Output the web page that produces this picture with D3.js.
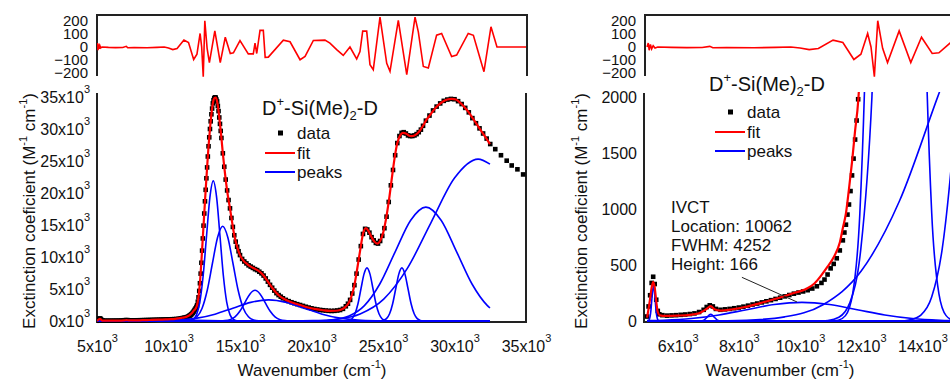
<!DOCTYPE html>
<html>
<head>
<meta charset="utf-8">
<script src="https://cdn.jsdelivr.net/npm/d3@7"></script>
<style>
  body { margin: 0; background: #fff; }
  text { font-family: "Liberation Sans", Arial, sans-serif; fill: #111; }
</style>
</head>
<body>
<svg width="950" height="381"></svg>
<script>
// ---- data (wavenumber in cm-1, extinction in M-1 cm-1) ----
var xTicksWide = [5000, 10000, 15000, 20000, 25000, 30000, 35000];
var yTicksWide = [0, 5000, 10000, 15000, 20000, 25000, 30000, 35000];
var xTicksZoom = [6000, 8000, 10000, 12000, 14000];
var yTicksZoom = [0, 500, 1000, 1500, 2000];
var resTicks = [-200, -100, 0, 100, 200];

var dataPoints = [[5000,40],[5050,130],[5100,230],[5150,340],[5200,395],[5250,330],[5300,190],[5350,90],[5400,60],[5500,52],[5650,48],[5800,50],[5950,52],[6100,55],[6250,58],[6400,62],[6550,68],[6700,80],[6850,100],[6950,125],[7050,140],[7150,130],[7250,108],[7400,100],[7550,104],[7700,108],[7850,114],[8000,120],[8150,128],[8300,137],[8450,147],[8600,156],[8750,166],[8900,176],[9050,186],[9200,197],[9350,208],[9500,220],[9650,232],[9800,244],[9950,254],[10100,264],[10250,275],[10400,290],[10550,310],[10700,340],[10800,370],[10900,415],[11000,470],[11100,510],[11200,560],[11300,630],[11400,720],[11450,790],[11500,860],[11550,950],[11600,1040],[11650,1160],[11700,1300],[11750,1450],[11800,1620],[11850,1790],[11900,1980],[11950,2200],[12000,2450],[12050,3000],[12100,3700],[12150,4700],[12200,5900],[12250,7400],[12300,9100],[12350,11000],[12400,12900],[12450,14900],[12500,16800],[12550,18700],[12600,20500],[12650,22300],[12700,24000],[12750,25700],[12800,27300],[12850,28700],[12900,30000],[12950,31200],[13000,32300],[13050,33200],[13100,34000],[13150,34500],[13200,34800],[13250,34950],[13300,34900],[13350,34600],[13400,34300],[13450,33600],[13500,32800],[13550,31800],[13600,30800],[13650,29700],[13700,28600],[13800,26200],[13900,24100],[14000,22100],[14100,20400],[14200,18900],[14300,17600],[14400,16100],[14500,14700],[14600,13400],[14700,12400],[14800,11600],[14900,10900],[15000,10300],[15150,9700],[15300,9300],[15450,9000],[15600,8700],[15750,8500],[15900,8300],[16050,8100],[16200,7950],[16350,7700],[16500,7450],[16650,7100],[16800,6650],[16950,6150],[17100,5650],[17250,5200],[17400,4750],[17550,4350],[17700,4050],[17850,3800],[18000,3550],[18200,3300],[18400,3100],[18600,2930],[18800,2780],[19000,2630],[19200,2500],[19400,2360],[19600,2220],[19800,2100],[20000,1980],[20200,1880],[20400,1800],[20600,1730],[20800,1680],[21000,1630],[21200,1590],[21400,1570],[21600,1590],[21800,1640],[22000,1720],[22200,1900],[22400,2300],[22550,2700],[22700,3300],[22850,4300],[23000,5600],[23150,7400],[23300,9600],[23450,11700],[23600,13600],[23750,14400],[23900,14300],[24050,13800],[24200,13100],[24350,12600],[24500,12200],[24650,12100],[24800,12500],[24950,13300],[25100,14500],[25250,16300],[25400,18600],[25550,21200],[25700,23600],[25850,25900],[26000,27800],[26150,28900],[26300,29400],[26450,29500],[26600,29300],[26750,29000],[26900,28900],[27050,28900],[27200,29000],[27350,29200],[27500,29500],[27650,29900],[27800,30500],[28000,31300],[28250,32100],[28500,32900],[28750,33500],[29000,34000],[29250,34400],[29500,34600],[29750,34700],[30000,34650],[30250,34350],[30500,33900],[30750,33300],[31000,32600],[31250,31700],[31500,30900],[31750,30100],[32000,29300],[32250,28500],[32500,27650],[32850,26850],[33250,25900],[33650,25050],[34000,24300],[34400,23700],[34800,22900]];

var fitPoints = [[5000,30],[5050,110],[5100,200],[5150,300],[5200,350],[5250,300],[5300,175],[5350,80],[5420,50],[5600,45],[6000,48],[6400,55],[6700,70],[6900,100],[7000,120],[7080,132],[7200,104],[7400,92],[7800,105],[8200,125],[8700,160],[9300,205],[9800,250],[10200,285],[10470,335],[10700,410],[10900,485],[11100,570],[11300,700],[11400,830],[11500,960],[11600,1180],[11700,1420],[11800,1700],[11900,1960],[12000,2500],[12100,3800],[12200,6000],[12300,9300],[12400,13000],[12500,16800],[12600,20500],[12700,24000],[12800,27300],[12900,30000],[13000,32300],[13100,34000],[13200,34800],[13300,34900],[13400,34300],[13500,32800],[13600,30800],[13700,28600],[13800,26200],[13900,24100],[14000,22100],[14150,19600],[14300,17600],[14450,15400],[14600,13400],[14800,11600],[15000,10300],[15250,9400],[15500,8900],[15750,8500],[16000,8200],[16250,7900],[16500,7450],[16750,6800],[17000,6000],[17250,5200],[17500,4500],[17750,3950],[18000,3550],[18300,3200],[18700,2850],[19200,2500],[19700,2150],[20300,1850],[20800,1680],[21300,1580],[21700,1600],[22000,1720],[22300,2050],[22600,2800],[22800,3900],[23000,5600],[23200,8200],[23400,11000],[23600,13600],[23800,14500],[24000,14000],[24200,13100],[24400,12400],[24600,12100],[24800,12500],[25000,13700],[25200,15800],[25400,18600],[25600,22000],[25800,25300],[26000,27800],[26200,29000],[26400,29400],[26600,29300],[26800,29000],[27000,28900],[27200,29000],[27400,29300],[27600,29800],[27800,30500],[28000,31300],[28300,32200],[28600,33100],[28900,33800],[29200,34300],[29500,34600],[29800,34700],[30100,34600],[30400,34100],[30700,33400],[31000,32600],[31300,31600],[31600,30600],[31900,29600],[32200,28600],[32480,27650]];

var residualPoints = [[5000,0],[5040,30],[5070,-25],[5110,20],[5150,-15],[5200,10],[5260,-8],[5350,0],[5800,-3],[6300,-5],[6800,-4],[7050,5],[7150,-6],[7600,-4],[8500,-6],[9200,-3],[9700,0],[10000,-8],[10300,-20],[10600,-12],[11080,53],[11400,35],[11760,-96],[11990,-55],[12210,104],[12320,0],[12430,-228],[12540,202],[12700,-10],[12860,-120],[13240,124],[13620,-120],[13970,75],[14320,-50],[14540,-45],[15000,50],[15580,-53],[15930,-53],[16050,30],[16170,-50],[16400,128],[16630,128],[16760,-80],[16980,-78],[18030,53],[18500,40],[19200,-98],[19550,-73],[20130,50],[20940,53],[21290,30],[21760,-20],[22220,-65],[22690,0],[23160,-92],[23390,-35],[23580,122],[23860,122],[24090,-136],[24320,-175],[24790,230],[25260,-125],[25490,-187],[26070,205],[26660,-212],[27240,230],[27470,116],[27820,-150],[28170,-162],[28750,91],[29100,104],[29800,-73],[30150,-62],[30960,104],[31320,90],[31780,-85],[32060,-190],[32550,155],[32970,0],[35000,0]];

// fitted component bands
var peakNir = [[5000,0],[5045,3],[5100,42],[5128,100],[5155,188],[5183,274],[5210,310],[5237,274],[5265,188],[5292,100],[5320,42],[5375,3],[5430,0],[32480,0]];
var peak7100 = [[5000,0],[6750,0],[6860,8],[6970,36],[7025,53],[7080,60],[7135,53],[7190,36],[7300,8],[7410,0],[32480,0]];
var peakIvct = [[5000,3],[5547,7],[6450,22],[7353,54],[8256,101],[9159,147],[10062,166],[10965,147],[11868,101],[12771,54],[13674,22],[14577,7],[15480,2],[16383,0],[32480,0]];
var peak13100 = [[5000,0],[11015,0],[11250,7],[11485,48],[11720,243],[11955,960],[12190,2960],[12425,7110],[12660,13280],[12895,19330],[13130,21900],[13365,19330],[13600,13280],[13835,7110],[14070,2960],[14305,960],[14540,243],[14775,48],[15010,7],[15245,0],[32480,0]];
var peak13800 = [[5000,0],[10550,0],[10910,5],[11270,33],[11630,164],[11990,650],[12350,2000],[12710,4805],[13070,8980],[13430,13060],[13790,14800],[14150,13060],[14510,8980],[14870,4805],[15230,2000],[15590,650],[15950,164],[16310,33],[16670,5],[17030,0],[32480,0]];
var peak16050 = [[5000,0],[13250,0],[13600,11],[13950,53],[14300,211],[14650,649],[15000,1559],[15350,2911],[15700,4236],[16050,4800],[16400,4236],[16750,2911],[17100,1559],[17450,649],[17800,211],[18150,53],[18500,11],[18850,0],[32480,0]];
var peak17000 = [[5000,0],[7000,0],[8250,7],[9500,37],[10750,145],[12000,446],[13250,1071],[14500,2001],[15750,2912],[17000,3300],[18250,2912],[19500,2001],[20750,1071],[22000,446],[23250,145],[24500,37],[25750,7],[27000,0],[32480,0]];
var peak23880 = [[5000,0],[22200,0],[22410,18],[22620,92],[22830,364],[23040,1123],[23250,2695],[23460,5034],[23670,7325],[23880,8300],[24090,7325],[24300,5034],[24510,2695],[24720,1123],[24930,364],[25140,92],[25350,18],[25560,0],[32480,0]];
var peak26320 = [[5000,0],[24600,0],[24815,18],[25030,92],[25245,364],[25460,1123],[25675,2695],[25890,5034],[26105,7325],[26320,8300],[26535,7325],[26750,5034],[26965,2695],[27180,1123],[27395,364],[27610,92],[27825,18],[28040,0],[32480,0]];
var peak28000 = [[5000,0],[18300,0],[19400,6],[20475,39],[21550,198],[22625,781],[23700,2408],[24775,5780],[25850,10800],[26925,15710],[28000,17800],[29075,15710],[30150,10800],[31225,5780],[32300,2408],[32480,2030]];
var peak31650 = [[5000,0],[16800,0],[18450,9],[20100,56],[21750,281],[23400,1111],[25050,3423],[26700,8215],[28350,15340],[30000,22330],[31650,25300],[32480,24500]];

var peakList = [peakNir, peak7100, peakIvct, peak13100, peak13800, peak16050, peak17000, peak23880, peak26320, peak28000, peak31650];

var ivct = { location: 10062, fwhm: 4252, height: 166 };
var ivctPointer = [[8100, 390], [9900, 170]];

// ---- drawing ----
var svg = d3.select("svg");
var yRes = d3.scaleLinear().domain([-200, 200]).range([73, 21]);

var defs = svg.append("defs");
function addClip(id, x, y, w, h) {
  defs.append("clipPath").attr("id", id).append("rect")
    .attr("x", x).attr("y", y).attr("width", w).attr("height", h);
}

function sciTicks(sel) {
  sel.each(function(d) {
    var t = d3.select(this).text(null);
    t.append("tspan").text(d / 1000 + "x10");
    t.append("tspan").attr("dy", -10).attr("font-size", "11px").text("3");
  });
}

function addTitle(g, x, y) {
  var t = g.append("text").attr("x", x).attr("y", y).attr("font-size", "20px");
  t.append("tspan").text("D");
  t.append("tspan").attr("dy", -9).attr("font-size", "13px").text("+");
  t.append("tspan").attr("dy", 9).text("-Si(Me)");
  t.append("tspan").attr("dy", 5).attr("font-size", "13px").text("2");
  t.append("tspan").attr("dy", -5).text("-D");
}

function drawPanel(p) {
  var g = svg.append("g");
  var x = p.x, y = p.y;
  var left = x.range()[0], right = Math.min(x.range()[1], 950);

  addClip(p.id + "main", left, 92, right - left + 2, 232);
  addClip(p.id + "res", p.resLeft, 15, right - p.resLeft + 2, 62);

  // residual strip
  g.append("path")
    .attr("d", "M" + p.resLeft + ",76V15H" + p.resRight + (p.resRight < 950 ? "V76" : ""))
    .attr("fill", "none").attr("stroke", "#222").attr("stroke-width", 2);

  g.append("path").datum(residualPoints)
    .attr("clip-path", "url(#" + p.id + "res)")
    .attr("fill", "none").attr("stroke", "#f00").attr("stroke-width", 1.6)
    .attr("d", d3.line().x(function(d) { return x(d[0]); }).y(function(d) { return yRes(d[1]); }));

  var ra = g.append("g").attr("transform", "translate(" + p.resLeft + ",0)")
    .call(d3.axisLeft(yRes).tickValues(resTicks).tickSize(0).tickPadding(9));
  ra.select(".domain").remove();
  ra.selectAll("text").attr("font-size", "15px").attr("fill", "#111");
  ra.attr("font-family", null).attr("font-size", null);

  // main frame
  g.append("path")
    .attr("d", "M" + left + ",93V322H" + p.frameRight + (p.frameRight < 950 ? "V93" : ""))
    .attr("fill", "none").attr("stroke", "#222").attr("stroke-width", 2);

  var plot = g.append("g").attr("clip-path", "url(#" + p.id + "main)");

  plot.selectAll("rect.pt").data(dataPoints).enter().append("rect")
    .attr("class", "pt")
    .attr("x", function(d) { return x(d[0]) - 2.3; })
    .attr("y", function(d) { return y(d[1]) - 2.3; })
    .attr("width", 4.6).attr("height", 4.6).attr("fill", "#000");

  var curve = d3.line().curve(d3.curveMonotoneX)
    .x(function(d) { return x(d[0]); }).y(function(d) { return y(d[1]); });

  plot.selectAll("path.peak").data(peakList).enter().append("path")
    .attr("class", "peak").attr("d", curve)
    .attr("fill", "none").attr("stroke", "#0000ff").attr("stroke-width", 1.6);

  plot.append("path").datum(fitPoints).attr("d", curve)
    .attr("fill", "none").attr("stroke", "#f00").attr("stroke-width", 2.2);

  // axes labels
  var xa = g.append("g").attr("transform", "translate(0,322)")
    .call(d3.axisBottom(x).tickValues(p.xTicks).tickSize(0).tickPadding(30));
  xa.select(".domain").remove();
  xa.selectAll("text").attr("font-size", "16px").attr("fill", "#111").attr("dy", null).call(sciTicks);
  xa.attr("font-family", null).attr("font-size", null);

  var ya = g.append("g").attr("transform", "translate(" + left + ",0)")
    .call(d3.axisLeft(y).tickValues(p.yTicks).tickSize(0).tickPadding(7).tickFormat(d3.format("d")));
  ya.select(".domain").remove();
  ya.selectAll("text").attr("font-size", "16px").attr("fill", "#111");
  if (p.sci) ya.selectAll("text").call(sciTicks);
  ya.attr("font-family", null).attr("font-size", null);

  var xl = g.append("text").attr("x", p.xLabelX).attr("y", 376)
    .attr("text-anchor", "middle").attr("font-size", "17px");
  xl.append("tspan").text("Wavenumber (cm");
  xl.append("tspan").attr("dy", -8).attr("font-size", "11px").text("-1");
  xl.append("tspan").attr("dy", 8).text(")");

  var yl = g.append("text")
    .attr("transform", "translate(" + p.yLabelX + ",211) rotate(-90)")
    .attr("text-anchor", "middle").attr("font-size", "17px");
  yl.append("tspan").text("Exctinction coeficient (M");
  yl.append("tspan").attr("dy", -8).attr("font-size", "11px").text("-1");
  yl.append("tspan").attr("dy", 8).text(" cm");
  yl.append("tspan").attr("dy", -8).attr("font-size", "11px").text("-1");
  yl.append("tspan").attr("dy", 8).text(")");

  // title + legend
  addTitle(g, p.titleX, p.titleY);
  var lg = g.append("g").attr("transform", "translate(" + p.legX + "," + p.legY + ")");
  lg.append("rect").attr("x", 13).attr("y", -2.5).attr("width", 5).attr("height", 5).attr("fill", "#000");
  lg.append("text").attr("x", 32).attr("y", 6).attr("font-size", "17px").text("data");
  lg.append("line").attr("x1", 0).attr("x2", 30).attr("y1", 20).attr("y2", 20).attr("stroke", "#f00").attr("stroke-width", 2);
  lg.append("text").attr("x", 32).attr("y", 26).attr("font-size", "17px").text("fit");
  lg.append("line").attr("x1", 0).attr("x2", 30).attr("y1", 39).attr("y2", 39).attr("stroke", "#0000ff").attr("stroke-width", 2);
  lg.append("text").attr("x", 32).attr("y", 45).attr("font-size", "17px").text("peaks");
  return g;
}

var xWide = d3.scaleLinear().domain([5000, 35000]).range([97, 526]);
var yWide = d3.scaleLinear().domain([0, 35000]).range([321, 97]);
var xZoom = d3.scaleLinear().domain([4900, 15000]).range([644, 953]);
var yZoom = d3.scaleLinear().domain([0, 2000]).range([321, 97]);

drawPanel({ id: "w", x: xWide, y: yWide, xTicks: xTicksWide, yTicks: yTicksWide, sci: true,
  resLeft: 97, resRight: 527, frameRight: 526, xLabelX: 312, yLabelX: 35,
  titleX: 262, titleY: 115, legX: 265, legY: 133 });

var gz = drawPanel({ id: "z", x: xZoom, y: yZoom, xTicks: xTicksZoom, yTicks: yTicksZoom, sci: false,
  resLeft: 645, resRight: 952, frameRight: 952, xLabelX: 780, yLabelX: 587,
  titleX: 709, titleY: 91, legX: 715, legY: 112 });

// IVCT annotation
var ann = gz.append("text").attr("font-size", "17px");
["IVCT", "Location: " + ivct.location, "FWHM: " + ivct.fwhm, "Height: " + ivct.height]
  .forEach(function(s, i) {
    ann.append("tspan").attr("x", 671).attr("y", 213 + i * 19).text(s);
  });
gz.append("path").datum(ivctPointer)
  .attr("d", d3.line().x(function(d) { return xZoom(d[0]); }).y(function(d) { return yZoom(d[1]); }))
  .attr("stroke", "#222").attr("stroke-width", 1).attr("fill", "none");
</script>
</body>
</html>
